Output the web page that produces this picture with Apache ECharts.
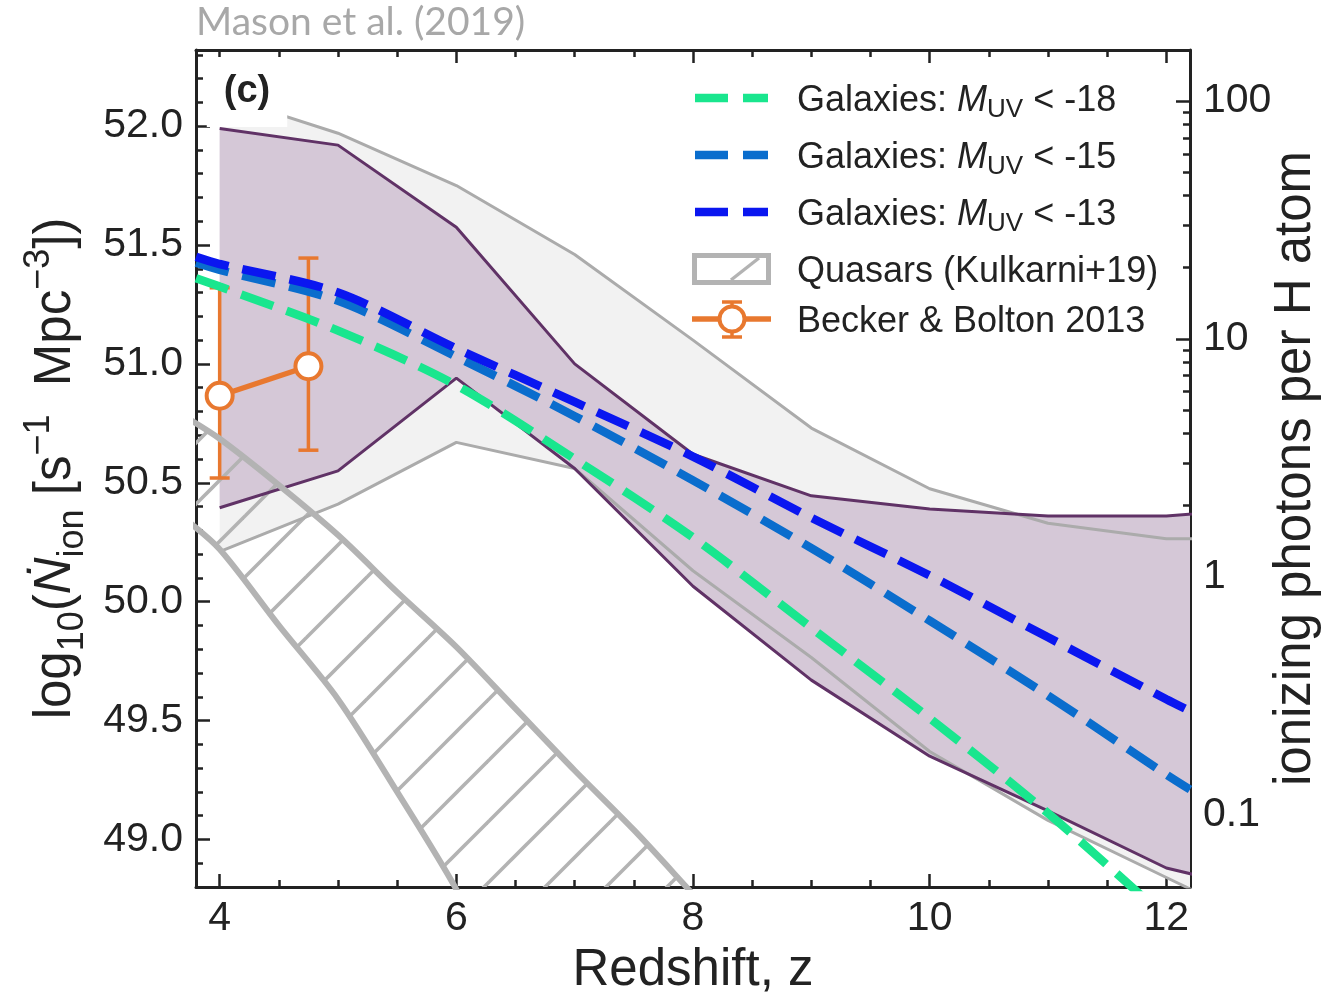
<!DOCTYPE html>
<html><head><meta charset="utf-8">
<script src="https://cdn.jsdelivr.net/npm/echarts@6/dist/echarts.min.js"></script>
<style>html,body{margin:0;padding:0;background:#fff}#c{width:1322px;height:999px}</style>
</head><body><div id="c"></div>
<script>
// ---------------- data ----------------
const xTicks = [4, 6, 8, 10, 12];
const xMinorTicks = [4, 4.5, 5, 5.5, 6, 6.5, 7, 7.5, 8, 8.5, 9, 9.5, 10, 10.5, 11, 11.5, 12];
const yTicks = [49.0, 49.5, 50.0, 50.5, 51.0, 51.5, 52.0];
const yMinorTicks = [48.9, 49.1, 49.2, 49.3, 49.4, 49.6, 49.7, 49.8, 49.9, 50.1, 50.2, 50.3, 50.4, 50.6, 50.7, 50.8, 50.9, 51.1, 51.2, 51.3, 51.4, 51.6, 51.7, 51.8, 51.9, 52.1, 52.2, 52.3];
const rightTickValues = [0.1, 1, 10, 100];
const rightTickLabels = ['0.1', '1', '10', '100'];
const rightMinorValues = [0.06, 0.07, 0.08, 0.09, 0.2, 0.3, 0.4, 0.5, 0.6, 0.7, 0.8, 0.9, 2, 3, 4, 5, 6, 7, 8, 9, 20, 30, 40, 50, 60, 70, 80, 90, 200];
const photonOffset = 50.105; // log10(N_ion) at 1 ionizing photon per H atom

// shaded model bands (log10 N_ion) at redshift zBand
const zBand = [4, 5, 6, 7, 8, 9, 10, 11, 12, 13];
const grayUpper = [52.13, 51.97, 51.75, 51.46, 51.10, 50.73, 50.475, 50.33, 50.265, 50.265];
const grayLower = [50.21, 50.41, 50.67, 50.56, 50.13, 49.765, 49.37, 49.08, 48.84, 48.60];
const purpleUpper = [51.99, 51.92, 51.575, 51.00, 50.62, 50.445, 50.39, 50.36, 50.36, 50.40];
const purpleLower = [50.395, 50.55, 50.94, 50.56, 50.065, 49.67, 49.35, 49.12, 48.88, 48.76];

// quasars (Kulkarni+19) band
const zQso = [3.7, 4, 4.5, 5, 5.5, 6, 6.5, 7, 7.5, 8, 8.5];
const qsoUpper = [50.78, 50.685, 50.49, 50.28, 50.04, 49.81, 49.55, 49.29, 49.04, 48.77, 48.50];
const qsoLower = [50.35, 50.22, 49.90, 49.59, 49.20, 48.79, 48.30, 47.80, 47.30, 46.80, 46.30];

// galaxies
const zGal = [3.8, 4, 5, 6, 7, 8, 9, 10, 11, 12, 12.2];
const galM18 = [51.36, 51.325, 51.14, 50.91, 50.60, 50.27, 49.89, 49.51, 49.11, 48.67, 48.58];
const galM15 = [51.425, 51.395, 51.265, 51.03, 50.78, 50.51, 50.225, 49.92, 49.605, 49.273, 49.21];
const galM13 = [51.45, 51.42, 51.30, 51.065, 50.84, 50.61, 50.353, 50.11, 49.85, 49.59, 49.54];

// Becker & Bolton 2013
const bbZ = [4.0, 4.75];
const bbVal = [50.866, 50.99];
const bbLow = [50.52, 50.637];
const bbHigh = [51.32, 51.445];

// ---------------- style ----------------
const FONT = "'Liberation Sans', Arial, Helvetica, sans-serif";
const INK = '#222222';
const cGreen = '#19e68e', cMid = '#0a6dcd', cBlue = '#0a16f0', cOrange = '#e8782f';
const cGrayFill = '#f2f2f2', cGrayLine = '#ababab';
const cPurpFill = '#d5c8d7', cPurpLine = '#603266';
const cQso = '#b3b3b3';

function zip(xs, ys) { return xs.map((x, i) => [x, ys[i]]); }

function hatchPattern() {
  const c = document.createElement('canvas');
  c.width = 61; c.height = 61;
  const g = c.getContext('2d');
  g.strokeStyle = cQso; g.lineWidth = 3.6;
  [29, 90].forEach(k => { g.beginPath(); g.moveTo(k + 6, -6); g.lineTo(-6, k + 6); g.stroke(); });
  return c;
}

// filled band between two curves, drawn through the chart's own coordinate system
function bandSeries(xs, lo, hi, fill) {
  return {
    type: 'custom', clip: true, silent: true,
    data: [[xs[0], hi[0]]], encode: { x: 0, y: 1 },
    renderItem: (params, api) => {
      const top = xs.map((x, i) => api.coord([x, hi[i]]));
      const bot = xs.map((x, i) => api.coord([x, lo[i]])).reverse();
      return { type: 'polygon', shape: { points: top.concat(bot) }, style: { fill: fill, stroke: null } };
    }
  };
}

const chart = echarts.init(document.getElementById('c'), null, { renderer: 'canvas' });

function xAxisDef(pos, values, len, showLabel, showLine) {
  return {
    type: 'value', position: pos, min: 3.8, max: 12.2, gridIndex: 0,
    axisLine: { show: showLine, onZero: false, lineStyle: { color: INK, width: 3 } },
    axisTick: { show: true, inside: true, length: len, customValues: values, lineStyle: { color: INK, width: 2.5 } },
    axisLabel: showLabel ? { show: true, customValues: xTicks, margin: 11, color: INK, fontSize: 41, fontFamily: FONT, formatter: v => String(v) } : { show: false },
    splitLine: { show: false }
  };
}
function yAxisDef(pos, min, max, values, len, label, showLine, name) {
  const o = {
    type: 'value', position: pos, min: min, max: max, gridIndex: 0,
    axisLine: { show: showLine, onZero: false, lineStyle: { color: INK, width: 3 } },
    axisTick: { show: true, inside: true, length: len, customValues: values, lineStyle: { color: INK, width: 2.5 } },
    axisLabel: label || { show: false },
    splitLine: { show: false }
  };
  if (name) Object.assign(o, name);
  return o;
}

const leftName = '{n|log}{sb|10}{n|(}{i|Ṅ}{sb|ion}{n| [s}{sp|−1}{n|  Mpc}{sp|−3}{n|])}';

const option = {
  animation: false,
  backgroundColor: '#ffffff',
  title: {
    text: 'Mason et al. (2019)', left: 196, top: 3, padding: 0,
    textStyle: { color: '#a8a8a8', fontSize: 39, fontWeight: 'normal', fontFamily: "Lato, 'Open Sans', sans-serif" }
  },
  grid: { left: 196, top: 50, width: 994, height: 837, containLabel: false, outerBoundsMode: 'none' },
  xAxis: [
    Object.assign(xAxisDef('bottom', xTicks, 13, true, true), {
      name: 'Redshift, z', nameLocation: 'middle', nameGap: 58, nameMoveOverlap: false,
      nameTextStyle: { fontSize: 51, color: INK, fontFamily: FONT }
    }),
    xAxisDef('bottom', xMinorTicks, 7, false, false),
    xAxisDef('top', xTicks, 13, false, true),
    xAxisDef('top', xMinorTicks, 7, false, false)
  ],
  yAxis: [
    yAxisDef('left', 48.8, 52.32, yTicks, 14,
      { show: true, customValues: yTicks, margin: 13, color: INK, fontSize: 41, fontFamily: FONT, formatter: v => v.toFixed(1) },
      true,
      { name: leftName, nameLocation: 'middle', nameRotate: 90, nameGap: 105, nameMoveOverlap: false,
        nameTextStyle: {
          color: INK, fontFamily: FONT, fontSize: 51, lineHeight: 70,
          rich: {
            n: { fontSize: 51, fontFamily: FONT, color: INK, lineHeight: 70, verticalAlign: 'middle' },
            i: { fontSize: 51, fontFamily: FONT, color: INK, fontStyle: 'italic', lineHeight: 70, verticalAlign: 'middle' },
            sb: { fontSize: 36, fontFamily: FONT, color: INK, lineHeight: 46, verticalAlign: 'bottom' },
            sp: { fontSize: 36, fontFamily: FONT, color: INK, lineHeight: 36, verticalAlign: 'top' }
          }
        } }),
    yAxisDef('left', 48.8, 52.32, yMinorTicks, 7, null, false),
    yAxisDef('right', 48.8 - photonOffset, 52.32 - photonOffset, rightTickValues.map(Math.log10), 14,
      { show: true, customValues: rightTickValues.map(Math.log10), margin: 13, color: INK, fontSize: 41, fontFamily: FONT,
        formatter: v => { const i = rightTickValues.findIndex(t => Math.abs(Math.log10(t) - v) < 1e-6); return i >= 0 ? rightTickLabels[i] : ''; } },
      true,
      { name: 'ionizing photons per H atom', nameLocation: 'middle', nameRotate: 90, nameGap: 80, nameMoveOverlap: false,
        nameTextStyle: { color: INK, fontFamily: FONT, fontSize: 51 } }),
    yAxisDef('right', 48.8 - photonOffset, 52.32 - photonOffset, rightMinorValues.map(Math.log10), 7, null, false)
  ],
  series: [
    bandSeries(zBand, grayLower, grayUpper, cGrayFill),
    bandSeries(zBand, purpleLower, purpleUpper, cPurpFill),
    // band edges
    { type: 'line', data: zip(zBand, grayUpper), symbol: 'none', lineStyle: { color: cGrayLine, width: 3 } },
    { type: 'line', data: zip(zBand, grayLower), symbol: 'none', lineStyle: { color: cGrayLine, width: 3 } },
    { type: 'line', data: zip(zBand, purpleUpper), symbol: 'none', lineStyle: { color: cPurpLine, width: 3 } },
    { type: 'line', data: zip(zBand, purpleLower), symbol: 'none', lineStyle: { color: cPurpLine, width: 3 } },
    // quasars hatched band
    bandSeries(zQso, qsoLower, qsoUpper, { image: hatchPattern(), repeat: 'repeat' }),
    { type: 'line', data: zip(zQso, qsoUpper), symbol: 'none', smooth: 0.3, lineStyle: { color: cQso, width: 6 } },
    { type: 'line', data: zip(zQso, qsoLower), symbol: 'none', smooth: 0.3, lineStyle: { color: cQso, width: 6 } },
    // galaxies
    { name: 'Galaxies: M_UV < -18', type: 'line', data: zip(zGal, galM18), symbol: 'none', smooth: 0.3, lineStyle: { color: cGreen, width: 8.5, type: [34, 14] } },
    { name: 'Galaxies: M_UV < -15', type: 'line', data: zip(zGal, galM15), symbol: 'none', smooth: 0.3, lineStyle: { color: cMid, width: 8.5, type: [34, 14] } },
    { name: 'Galaxies: M_UV < -13', type: 'line', data: zip(zGal, galM13), symbol: 'none', smooth: 0.3, lineStyle: { color: cBlue, width: 8.5, type: [34, 14] } },
    // Becker & Bolton error bars
    { type: 'custom', data: bbZ.map((z, i) => [z, bbVal[i], bbLow[i], bbHigh[i]]), encode: { x: 0, y: [1, 2, 3] },
      renderItem: (params, api) => {
        const lo = api.coord([api.value(0), api.value(2)]);
        const hi = api.coord([api.value(0), api.value(3)]);
        const st = { stroke: cOrange, lineWidth: 3.5 };
        return { type: 'group', children: [
          { type: 'line', shape: { x1: lo[0], y1: lo[1], x2: hi[0], y2: hi[1] }, style: st },
          { type: 'line', shape: { x1: lo[0] - 10, y1: lo[1], x2: lo[0] + 10, y2: lo[1] }, style: st },
          { type: 'line', shape: { x1: hi[0] - 10, y1: hi[1], x2: hi[0] + 10, y2: hi[1] }, style: st }
        ] };
      } },
    { name: 'Becker & Bolton 2013', type: 'line', data: zip(bbZ, bbVal), symbol: 'circle', symbolSize: 26,
      lineStyle: { color: cOrange, width: 5.5 }, itemStyle: { color: '#ffffff', borderColor: cOrange, borderWidth: 4 } }
  ],
  graphic: [
    { type: 'text', x: 247, y: 92, z: 100, style: { text: '(c)', font: "bold 38px " + FONT, fill: INK, align: 'center', verticalAlign: 'middle', backgroundColor: '#ffffff', padding: [16, 17] } },
    // legend
    { type: 'line', z: 100, shape: { x1: 695, y1: 98, x2: 768, y2: 98 }, style: { stroke: cGreen, lineWidth: 8.5, lineDash: [33, 15] } },
    { type: 'line', z: 100, shape: { x1: 695, y1: 155, x2: 768, y2: 155 }, style: { stroke: cMid, lineWidth: 8.5, lineDash: [33, 15] } },
    { type: 'line', z: 100, shape: { x1: 695, y1: 212, x2: 768, y2: 212 }, style: { stroke: cBlue, lineWidth: 8.5, lineDash: [33, 15] } },
    { type: 'rect', z: 100, shape: { x: 694.5, y: 255.5, width: 74, height: 27 }, style: { fill: '#ffffff', stroke: cQso, lineWidth: 5 } },
    { type: 'line', z: 100, shape: { x1: 731, y1: 280, x2: 759, y2: 258 }, style: { stroke: cQso, lineWidth: 3.4 } },
    { type: 'line', z: 100, shape: { x1: 692, y1: 319, x2: 771, y2: 319 }, style: { stroke: cOrange, lineWidth: 5.5 } },
    { type: 'line', z: 100, shape: { x1: 732, y1: 302, x2: 732, y2: 337 }, style: { stroke: cOrange, lineWidth: 3.5 } },
    { type: 'line', z: 100, shape: { x1: 722, y1: 302, x2: 742, y2: 302 }, style: { stroke: cOrange, lineWidth: 3.5 } },
    { type: 'line', z: 100, shape: { x1: 722, y1: 337, x2: 742, y2: 337 }, style: { stroke: cOrange, lineWidth: 3.5 } },
    { type: 'circle', z: 101, shape: { cx: 732, cy: 319, r: 12.5 }, style: { fill: '#ffffff', stroke: cOrange, lineWidth: 4 } },
  ].concat(
    [['18', 101], ['15', 158], ['13', 215]].map(([m, y]) => ({
      type: 'text', x: 797, y: y, z: 100,
      style: {
        text: '{n|Galaxies: }{i|M}{s|UV}{n| < -' + m + '}', verticalAlign: 'middle', align: 'left',
        rich: {
          n: { fontSize: 36, fontFamily: FONT, fill: INK, lineHeight: 44, verticalAlign: 'middle' },
          i: { fontSize: 36, fontFamily: FONT, fontStyle: 'italic', fill: INK, lineHeight: 44, verticalAlign: 'middle' },
          s: { fontSize: 26, fontFamily: FONT, fill: INK, lineHeight: 30, verticalAlign: 'bottom' }
        }
      }
    })),
    [['Quasars (Kulkarni+19)', 272], ['Becker & Bolton 2013', 322]].map(([t, y]) => ({
      type: 'text', x: 797, y: y, z: 100,
      style: { text: t, font: '36px ' + FONT, fill: INK, verticalAlign: 'middle', align: 'left' }
    }))
  )
};
chart.setOption(option);
</script>
</body></html>
